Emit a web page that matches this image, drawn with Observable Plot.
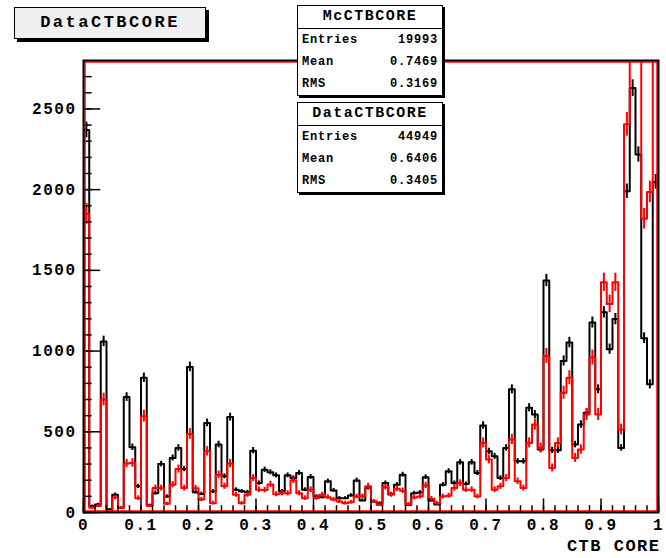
<!DOCTYPE html>
<html><head><meta charset="utf-8">
<script src="https://cdn.jsdelivr.net/npm/d3@7"></script>
<script src="https://cdn.jsdelivr.net/npm/@observablehq/plot@0.6"></script>
<style>
body{margin:0;background:#fff;}
#wrap{position:relative;width:666px;height:558px;font-family:"Liberation Mono","DejaVu Sans Mono",monospace;font-weight:bold;color:#000;}
#chart{position:absolute;left:0;top:0;}
.title{position:absolute;left:14px;top:7px;width:190px;height:30px;background:#f0f0f0;border:1px solid #000;box-shadow:3px 3px 0 #000;font-size:17px;letter-spacing:2.5px;line-height:30px;text-align:center;}
.stat{position:absolute;left:297px;width:144px;background:#fff;border:1px solid #000;box-shadow:2px 2px 0 #000;}
.stat .hd{height:22px;line-height:22px;text-align:center;font-size:15px;letter-spacing:1.5px;border-bottom:1px solid #000;}
.stat .row{height:22px;line-height:22px;font-size:12px;letter-spacing:0.8px;display:flex;justify-content:space-between;padding:0 4px 0 4px;}
</style></head>
<body>
<div id="wrap"><div id="chart"></div></div>
<script>
// Histogram definition: 100 bins from 0 to 1
const nBins = 100, xMin = 0, xMax = 1;
// Data histogram (black)
const dataCounts = [2370, 40, 50, 1060, 20, 110, 30, 715, 404, 162,
 835, 45, 120, 300, 99, 338, 400, 269, 902, 126,
 115, 555, 130, 421, 224, 591, 141, 131, 126, 383,
 182, 265, 249, 230, 131, 230, 213, 245, 141, 220,
 100, 95, 193, 137, 89, 89, 106, 199, 75, 151,
 68, 58, 182, 114, 172, 234, 47, 120, 124, 219,
 75, 50, 172, 255, 182, 311, 176, 311, 244, 539,
 379, 348, 213, 400, 763, 317, 317, 649, 607, 390,
 1437, 385, 385, 939, 1053, 421, 545, 618, 1177, 763,
 1240, 1012, 1198, 400, 1990, 2629, 2218, 1080, 794, 2048];
// MC histogram (red), scaled to data
const mcCounts = [1850, 30, 40, 700, 5, 93, 30, 303, 307, 89,
 597, 40, 151, 151, 54, 172, 269, 151, 487, 150,
 80, 379, 58, 234, 162, 303, 110, 58, 110, 213,
 141, 139, 174, 113, 119, 119, 200, 119, 89, 141,
 90, 110, 95, 80, 68, 58, 64, 99, 100, 162,
 68, 47, 158, 110, 147, 134, 51, 93, 99, 168,
 85, 58, 99, 104, 151, 182, 141, 141, 99, 431,
 328, 141, 162, 213, 452, 193, 151, 431, 545, 400,
 970, 276, 431, 742, 835, 338, 390, 607, 960, 607,
 1426, 1292, 1426, 514, 2405, 4600, 4300, 1820, 1986, 3700];
const mcScale = 44949 / 19993;
// Axis ticks
const yMajor = [0, 500, 1000, 1500, 2000, 2500];
const yMinor = d3.range(0, 2800, 100);
const xMajor = [0, 0.1, 0.2, 0.3, 0.4, 0.5, 0.6, 0.7, 0.8, 0.9, 1];
const xMinor = d3.range(0, 51).map(i => i / 50);
const yMax = 2800;
const xTitle = "CTB CORE";
// Title and stats boxes
const histTitle = "DataCTBCORE";
const statLabels = ["Entries", "Mean", "RMS"];
const mcStatName = "McCTBCORE";
const mcStats = ["19993", "0.7469", "0.3169"];
const dataStatName = "DataCTBCORE";
const dataStats = ["44949", "0.6406", "0.3405"];

const bw = (xMax - xMin) / nBins;
function stepPts(counts) {
  return [{x: xMin, y: 0}, ...counts.map((v, i) => ({x: xMin + i * bw, y: v})),
          {x: xMax, y: counts[counts.length - 1]}, {x: xMax, y: 0}];
}
function errPts(counts, s) {
  return counts.map((v, i) => {
    const e = Math.sqrt(v * s);
    return {x: xMin + (i + 0.5) * bw, y1: v - e, y2: v + e};
  });
}

const W = 666, H = 558, mL = 83, mR = 8, mT = 60, mB = 46;
const pw = W - mL - mR, ph = H - mT - mB;
const font = {fontFamily: "Liberation Mono, DejaVu Sans Mono, monospace", fontWeight: "bold"};

const plot = Plot.plot({
  width: W, height: H,
  marginLeft: mL, marginRight: mR, marginTop: mT, marginBottom: mB,
  style: {fontFamily: font.fontFamily, fontWeight: "bold", fontSize: "16px", letterSpacing: "1.5px", color: "#000", background: "#fff"},
  x: {domain: [xMin, xMax], label: null},
  y: {domain: [0, yMax], label: null},
  marks: [
    Plot.line(stepPts(dataCounts), {x: "x", y: "y", curve: "step-after", stroke: "#000", strokeWidth: 2, clip: true}),
    Plot.ruleX(errPts(dataCounts, 1), {x: "x", y1: "y1", y2: "y2", stroke: "#000", strokeWidth: 2, clip: true}),
    Plot.line(stepPts(mcCounts), {x: "x", y: "y", curve: "step-after", stroke: "#ff0000", strokeWidth: 2, clip: true}),
    Plot.ruleX(errPts(mcCounts, mcScale), {x: "x", y1: "y1", y2: "y2", stroke: "#ff0000", strokeWidth: 2, clip: true}),
    Plot.tickY(yMinor, {y: d => d, insetRight: pw - pw * 0.015, stroke: "#000", strokeWidth: 1.5}),
    Plot.tickY(yMajor, {y: d => d, insetRight: pw - pw * 0.03, stroke: "#000", strokeWidth: 1.5}),
    Plot.tickX(xMinor, {x: d => d, insetTop: ph - ph * 0.015, stroke: "#000", strokeWidth: 1.5}),
    Plot.tickX(xMajor, {x: d => d, insetTop: ph - ph * 0.03, stroke: "#000", strokeWidth: 1.5}),
    Plot.frame({stroke: "#ff0000", strokeWidth: 1.5, inset: 1.5}),
    Plot.frame({stroke: "#000", strokeWidth: 2}),
    Plot.axisY(yMajor, {tickSize: 0, tickPadding: 7, tickFormat: d3.format("d"), fontSize: 16, ...font}),
    Plot.axisX(xMajor, {tickSize: 0, tickPadding: 6, tickFormat: d3.format("~g"), fontSize: 16, ...font}),
    Plot.text([xTitle], {frameAnchor: "bottom-right", dy: 38, dx: 2, textAnchor: "end", fontSize: 17, ...font})
  ]
});
document.getElementById("chart").appendChild(plot);

const wrap = document.getElementById("wrap");
const t = document.createElement("div");
t.className = "title"; t.textContent = histTitle; wrap.appendChild(t);
function statBox(name, vals, top) {
  const b = document.createElement("div");
  b.className = "stat"; b.style.top = top + "px";
  let h = `<div class="hd">${name}</div>`;
  statLabels.forEach((l, i) => { h += `<div class="row"><span>${l}</span><span>${vals[i]}</span></div>`; });
  b.innerHTML = h; wrap.appendChild(b);
}
statBox(mcStatName, mcStats, 5);
statBox(dataStatName, dataStats, 102);
</script>
</body></html>
